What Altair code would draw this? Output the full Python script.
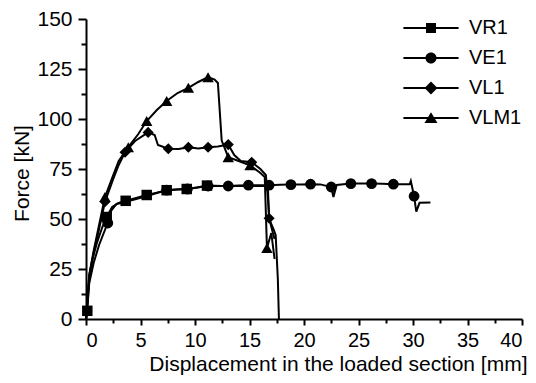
import altair as alt
import pandas as pd

# ---------------- data ----------------
series_names = ["VR1", "VE1", "VL1", "VLM1"]

vr1_x = [0, 0.12, 0.3, 0.6, 1.0, 1.5, 1.9, 2.4, 3.0, 3.64, 4.6, 5.57, 6.5, 7.4, 8.3, 9.24, 10.2, 11.1,
         12.5, 14.0, 15.5, 16.4, 16.7, 16.8, 17.2, 17.4, 17.6, 17.7]
vr1_y = [0, 4.1, 20, 30, 38, 46, 51, 56, 58, 59.1, 60.5, 62, 63.2, 64.4, 64.7, 65, 65.8, 66.7,
         66.5, 66.5, 66.5, 66.5, 64, 50, 45, 42, 20, 0]
vr1_m = [0, 1, 0, 0, 0, 0, 1, 0, 0, 1, 0, 1, 0, 1, 0, 1, 0, 1,
         0, 0, 0, 0, 0, 0, 0, 0, 0, 0]

ve1_x = [0, 0.3, 0.7, 1.2, 1.7, 2.0, 2.3, 2.8, 3.6, 4.6, 5.6, 6.5, 7.4, 8.3, 9.3, 10.2, 11.2, 12.1,
         13.05, 14.0, 14.9, 15.8, 16.8, 17.8, 18.8, 19.7, 20.6, 21.5, 22.5, 22.7, 23.0, 24.3, 25.2,
         26.2, 27.2, 28.2, 29.0, 29.7, 29.8, 30.1, 30.3, 30.6, 31.6]
ve1_y = [0, 18, 28, 37, 44, 48, 54, 57.5, 58.5, 60, 61.5, 63, 64.4, 64.8, 65, 65.8, 66.5, 66.5,
         66.5, 66.7, 66.9, 66.9, 66.9, 67.1, 67.2, 67.3, 67.4, 67.3, 66, 61, 67, 67.7, 67.7,
         67.7, 67.6, 67.4, 67.4, 67.4, 69, 61.4, 53.7, 58.1, 58.3]
ve1_m = [0, 0, 0, 0, 0, 1, 0, 0, 0, 0, 0, 0, 1, 0, 1, 0, 1, 0,
         1, 0, 1, 0, 1, 0, 1, 0, 1, 0, 1, 0, 0, 1, 0,
         1, 0, 1, 0, 0, 0, 1, 0, 0, 0]

vl1_x = [0, 0.3, 0.7, 1.2, 1.74, 2.5, 3.0, 3.58, 4.5, 5.7, 6.3, 6.6, 7.55, 8.5, 9.39, 10.3, 11.2,
         12.1, 13.05, 13.6, 14.2, 15.2, 16.0, 16.5, 16.7, 16.8, 17.1, 17.3]
vl1_y = [0, 22, 33, 45, 58.6, 70, 77, 83.4, 89, 93.3, 92, 87, 85.1, 85, 85.9, 85.3, 85.9,
         86.2, 87.2, 82, 79, 78.4, 75, 72, 60, 50.4, 44, 40]
vl1_m = [0, 0, 0, 0, 1, 0, 0, 1, 0, 1, 0, 0, 1, 0, 1, 0, 1,
         0, 1, 0, 0, 1, 0, 0, 0, 1, 0, 0]

vlm1_x = [0, 0.3, 0.7, 1.2, 1.74, 2.5, 3.0, 3.88, 4.8, 5.57, 6.5, 7.4, 8.4, 9.39, 10.3, 11.2,
          11.8, 12.1, 12.45, 13.05, 14.0, 15.05, 16.0, 16.4, 16.6, 17.0, 17.3]
vlm1_y = [0, 22, 34, 47, 61, 72, 79, 85.9, 92.5, 99, 104.5, 109, 113, 115.6, 118.5, 120.9,
          119.7, 118, 89.2, 80.9, 79, 76.8, 73, 71, 35.5, 43, 30]
vlm1_m = [0, 0, 0, 0, 1, 0, 0, 1, 0, 1, 0, 1, 0, 1, 0, 1,
          0, 0, 0, 1, 0, 1, 0, 0, 1, 0, 0]

x_major = [0, 5, 10, 15, 20, 25, 30, 35, 40]
x_minor = [2.5, 7.5, 12.5, 17.5, 22.5, 27.5, 32.5, 37.5]
y_major = [0, 25, 50, 75, 100, 125, 150]
y_minor = [12.5, 37.5, 62.5, 87.5, 112.5, 137.5]

# ---------------- table ----------------
rows = []
for name, xs, ys, ms in [("VR1", vr1_x, vr1_y, vr1_m), ("VE1", ve1_x, ve1_y, ve1_m),
                         ("VL1", vl1_x, vl1_y, vl1_m), ("VLM1", vlm1_x, vlm1_y, vlm1_m)]:
    for i, (a, b, m) in enumerate(zip(xs, ys, ms)):
        rows.append({"series": name, "x": a, "y": b, "marker": m, "idx": i})
df = pd.DataFrame(rows)

FONT = "Liberation Sans"

x_scale = alt.Scale(domain=[0, 40], nice=False, zero=False)
y_scale = alt.Scale(domain=[0, 150], nice=False, zero=False)

x_axis = alt.Axis(values=x_major, title="Displacement in the loaded section [mm]", orient="bottom",
                  titleX=441, titleY=51.5, titleAlign="right", titleBaseline="alphabetic",
                  tickSize=6, labelPadding=5, labelFontSize=20, format="d")
y_axis = alt.Axis(values=y_major, title="Force [kN]", orient="left",
                  titleX=-58, titleY=154, titleBaseline="alphabetic",
                  tickSize=8, labelPadding=6, labelFontSize=21, format="d")
x_axis_minor = alt.Axis(values=x_minor, title=None, labels=False, domain=False, tickSize=4,
                        orient="bottom")
y_axis_minor = alt.Axis(values=y_minor, title=None, labels=False, domain=False, tickSize=5,
                        orient="left")

base = alt.Chart(df)

lines = base.mark_line(color="black", strokeWidth=2).encode(
    x=alt.X("x:Q", scale=x_scale, axis=x_axis),
    y=alt.Y("y:Q", scale=y_scale, axis=y_axis),
    detail="series:N",
    order="idx:Q",
)

markers = base.transform_filter(alt.datum.marker == 1).mark_point(
    filled=True, color="black", opacity=1
).encode(
    x=alt.X("x:Q", scale=x_scale, axis=x_axis_minor),
    y=alt.Y("y:Q", scale=y_scale, axis=y_axis_minor),
    shape=alt.Shape("series:N", scale=alt.Scale(domain=series_names,
                                                range=["square", "circle", "diamond", "triangle-up"]),
                    legend=None),
    size=alt.Size("series:N", scale=alt.Scale(domain=series_names, range=[110, 130, 180, 180]),
                  legend=None),
)

# legend symbols: a thin filled bar (the line) plus the marker, all filled
L = "M-4.6,-0.16H4.6V0.16H-4.6Z"
legend_paths = [
    L + "M-0.83,-0.83H0.83V0.83H-0.83Z",
    L + "M-0.92,0A0.92,0.92 0 1,1 0.92,0A0.92,0.92 0 1,1 -0.92,0Z",
    L + "M-1.08,0L0,-1.08L1.08,0L0,1.08Z",
    L + "M0,-0.95L1.08,0.85L-1.08,0.85Z",
]

legend_layer = base.transform_filter(alt.datum.idx == 0).mark_point(
    filled=True, color="black", opacity=0, size=144
).encode(
    x=alt.X("x:Q", scale=x_scale, axis=None),
    y=alt.Y("y:Q", scale=y_scale, axis=None),
    shape=alt.Shape("series:N", scale=alt.Scale(domain=series_names, range=legend_paths),
                    legend=alt.Legend(title=None, orient="none", legendX=335, legendY=-1,
                                      symbolSize=144, symbolOpacity=1, symbolFillColor="black",
                                      symbolStrokeWidth=0,
                                      labelFont=FONT, labelFontSize=20, labelColor="black",
                                      labelOffset=28, rowPadding=10, padding=0)),
)

chart = alt.layer(lines, markers, legend_layer).resolve_scale(
    shape="independent", size="independent"
).resolve_axis(x="independent", y="independent").properties(
    width=436, height=300, autosize="none",
    padding={"left": 78, "top": 11, "right": 6, "bottom": 56},
).configure_view(stroke=None).configure_axis(
    grid=False, domainColor="black", domainWidth=2, tickColor="black", tickWidth=2,
    labelFont=FONT, labelColor="black",
    titleFont=FONT, titleFontSize=21, titleColor="black", titleFontWeight="normal",
)

chart.save("out.html", embed_options={"renderer": "svg", "actions": False})
